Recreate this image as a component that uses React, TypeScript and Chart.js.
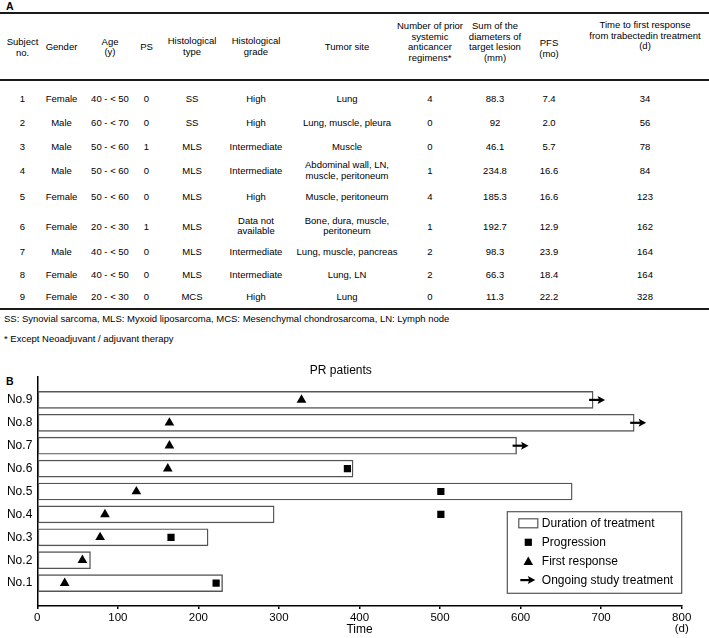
import React, { useEffect, useRef } from 'react';
import { Chart, registerables } from 'chart.js';

Chart.register(...registerables);

// ---------- Panel A : table data ----------
const tableHeaders = [
  'Subject\nno.',
  'Gender',
  'Age\n(y)',
  'PS',
  'Histological\ntype',
  'Histological\ngrade',
  'Tumor site',
  'Number of prior\nsystemic\nanticancer\nregimens*',
  'Sum of the\ndiameters of\ntarget lesion\n(mm)',
  'PFS\n(mo)',
  'Time to first response\nfrom trabectedin treatment\n(d)',
];
const subjectNo = ['1', '2', '3', '4', '5', '6', '7', '8', '9'];
const gender = ['Female', 'Male', 'Male', 'Male', 'Female', 'Female', 'Male', 'Female', 'Female'];
const ageGroup = ['40 - < 50', '60 - < 70', '50 - < 60', '50 - < 60', '50 - < 60', '20 - < 30', '40 - < 50', '40 - < 50', '20 - < 30'];
const perfStatus = ['0', '0', '1', '0', '0', '1', '0', '0', '0'];
const histType = ['SS', 'SS', 'MLS', 'MLS', 'MLS', 'MLS', 'MLS', 'MLS', 'MCS'];
const histGrade = ['High', 'High', 'Intermediate', 'Intermediate', 'High', 'Data not\navailable', 'Intermediate', 'Intermediate', 'High'];
const tumorSite = [
  'Lung',
  'Lung, muscle, pleura',
  'Muscle',
  'Abdominal wall, LN,\nmuscle, peritoneum',
  'Muscle, peritoneum',
  'Bone, dura, muscle,\nperitoneum',
  'Lung, muscle, pancreas',
  'Lung, LN',
  'Lung',
];
const priorRegimens = ['4', '0', '0', '1', '4', '1', '2', '2', '0'];
const sumDiameters = ['88.3', '92', '46.1', '234.8', '185.3', '192.7', '98.3', '66.3', '11.3'];
const pfsMonths = ['7.4', '2.0', '5.7', '16.6', '16.6', '12.9', '23.9', '18.4', '22.2'];
const timeToResponse = [34, 56, 78, 84, 123, 162, 164, 164, 328];
const footnotes = [
  'SS: Synovial sarcoma, MLS: Myxoid liposarcoma, MCS: Mesenchymal chondrosarcoma, LN: Lymph node',
  '* Except Neoadjuvant / adjuvant therapy',
];

// ---------- Panel B : swimmer plot data ----------
const chartTitle = 'PR patients';
const patientLabels = ['No.1', 'No.2', 'No.3', 'No.4', 'No.5', 'No.6', 'No.7', 'No.8', 'No.9'];
const treatmentDuration = [230, 66, 212, 294, 664, 392, 595, 741, 690];
const progressionDay: (number | null)[] = [222, null, 166, 501, 501, 385, null, null, null];
const firstResponseDay = timeToResponse;
const ongoingTreatment = [false, false, false, false, false, false, true, true, true];
const xAxisTitle = 'Time';
const xAxisUnit = '(d)';
const xMin = 0;
const xMax = 800;
const xStep = 100;
const legendLabels = ['Duration of treatment', 'Progression', 'First response', 'Ongoing study treatment'];

const FONT = '"Liberation Sans", Arial, Helvetica, sans-serif';

function drawArrow(ctx: CanvasRenderingContext2D, x0: number, tip: number, y: number) {
  ctx.save();
  ctx.strokeStyle = '#000';
  ctx.fillStyle = '#000';
  ctx.lineWidth = 2.2;
  ctx.beginPath();
  ctx.moveTo(x0, y);
  ctx.lineTo(tip - 5, y);
  ctx.stroke();
  ctx.beginPath();
  ctx.moveTo(tip, y);
  ctx.lineTo(tip - 7.5, y - 4);
  ctx.lineTo(tip - 6, y);
  ctx.lineTo(tip - 7.5, y + 4);
  ctx.closePath();
  ctx.fill();
  ctx.restore();
}

const swimmerExtras = {
  id: 'swimmerExtras',
  afterDatasetsDraw(chart: any) {
    const { ctx, scales, chartArea } = chart;
    const xs = scales.x;
    const ys = scales.y;
    // ongoing arrows
    ongoingTreatment.forEach((on, i) => {
      if (!on) return;
      const px = xs.getPixelForValue(treatmentDuration[i]);
      const py = ys.getPixelForValue(i + 1);
      drawArrow(ctx, px - 4, px + 12, py);
    });
    // legend box
    const bw = 174.4;
    const bh = 81.6;
    const bx = chartArea.right - bw;
    const by = chartArea.bottom - 94.3;
    ctx.save();
    ctx.fillStyle = '#fff';
    ctx.fillRect(bx, by, bw, bh);
    ctx.strokeStyle = '#555';
    ctx.lineWidth = 1.2;
    ctx.strokeRect(bx, by, bw, bh);
    const rows = [11.6, 30.6, 49.8, 68.4];
    const sx = bx + 21;
    const tx = bx + 34.5;
    ctx.font = '12px ' + FONT;
    ctx.textBaseline = 'middle';
    ctx.textAlign = 'left';
    legendLabels.forEach((lab, i) => {
      const ry = by + rows[i];
      if (i === 0) {
        ctx.fillStyle = '#fff';
        ctx.strokeStyle = '#555';
        ctx.lineWidth = 1.2;
        ctx.fillRect(sx - 9.5, ry - 4.5, 19, 9);
        ctx.strokeRect(sx - 9.5, ry - 4.5, 19, 9);
      } else if (i === 1) {
        ctx.fillStyle = '#000';
        ctx.fillRect(sx - 3.6, ry - 3.6, 7.2, 7.2);
      } else if (i === 2) {
        ctx.fillStyle = '#000';
        ctx.beginPath();
        ctx.moveTo(sx, ry - 5);
        ctx.lineTo(sx + 4.8, ry + 3.5);
        ctx.lineTo(sx - 4.8, ry + 3.5);
        ctx.closePath();
        ctx.fill();
      } else {
        drawArrow(ctx, sx - 8, sx + 7, ry);
      }
      ctx.fillStyle = '#000';
      ctx.fillText(lab, tx, ry + 0.5);
    });
    ctx.restore();
  },
};

function SwimmerChart() {
  const ref = useRef<HTMLCanvasElement>(null);
  useEffect(() => {
    if (!ref.current) return;
    Chart.defaults.font.family = FONT;
    Chart.defaults.color = '#000';
    const chart = new Chart(ref.current, {
      type: 'bar',
      data: {
        datasets: [
          {
            type: 'scatter',
            label: legendLabels[2],
            data: firstResponseDay.map((d, i) => ({ x: d, y: i + 1 })),
            pointStyle: 'triangle',
            pointRadius: 5.6,
            pointBackgroundColor: '#000',
            pointBorderWidth: 0,
            showLine: false,
            order: 1,
          } as any,
          {
            type: 'scatter',
            label: legendLabels[1],
            data: progressionDay
              .map((d, i) => (d === null ? null : { x: d, y: i + 1 }))
              .filter((p) => p !== null),
            pointStyle: 'rect',
            pointRadius: 5.1,
            pointBackgroundColor: '#000',
            pointBorderWidth: 0,
            showLine: false,
            order: 1,
          } as any,
          {
            type: 'bar',
            label: legendLabels[0],
            data: treatmentDuration.map((d, i) => ({ x: [0, d], y: i + 1 })),
            backgroundColor: '#fff',
            borderColor: '#555',
            borderWidth: 1.4,
            borderSkipped: false,
            barThickness: 17,
            order: 3,
          } as any,
        ],
      },
      options: {
        indexAxis: 'y',
        responsive: false,
        animation: false,
        devicePixelRatio: 1,
        layout: { padding: { top: 0, left: 0, right: 27.3, bottom: 0 } },
        plugins: {
          legend: { display: false },
          tooltip: { enabled: false },
          title: {
            display: true,
            text: chartTitle,
            color: '#000',
            font: { size: 12, weight: 'normal', lineHeight: 1 },
            padding: { top: 15, bottom: 0 },
          },
        },
        scales: {
          x: {
            type: 'linear',
            min: xMin,
            max: xMax,
            offset: false,
            ticks: {
              stepSize: xStep,
              color: '#000',
              font: { size: 11.5, lineHeight: 0.95 },
              padding: 3,
              maxRotation: 0,
              callback: (v: any) => (v === xMax ? [String(v), xAxisUnit] : String(v)),
            },
            grid: {
              drawOnChartArea: false,
              drawTicks: true,
              tickLength: 3,
              color: '#000',
              lineWidth: 1.5,
            },
            border: { display: true, color: '#000', width: 1.5 },
            title: {
              display: true,
              text: xAxisTitle,
              color: '#000',
              font: { size: 12 },
              padding: { top: 0, bottom: 1 },
            },
            afterFit: (s: any) => {
              s.height = 32;
            },
          },
          y: {
            type: 'linear',
            min: 0,
            max: patientLabels.length + 1,
            offset: false,
            ticks: {
              stepSize: 1,
              color: '#000',
              font: { size: 12 },
              padding: 5,
              callback: (v: any) => (v >= 1 && v <= patientLabels.length ? patientLabels[v - 1] : ''),
            },
            grid: { display: false, drawTicks: false, offset: false },
            border: { display: true, color: '#000', width: 1.5 },
            afterFit: (s: any) => {
              s.width = 37.3;
            },
          },
        },
      } as any,
      plugins: [swimmerExtras],
    });
    return () => chart.destroy();
  }, []);
  return (
    <canvas
      ref={ref}
      width={709}
      height={288}
      style={{ position: 'absolute', left: 0, top: 350, width: 709, height: 288 }}
    />
  );
}

const colX = [22.5, 61.5, 110, 146.5, 192, 256, 347, 430, 495, 549, 645];
const headerY = [48, 47, 47.5, 47, 47, 47, 47, 42, 42, 49, 36];
const rowY = [98.7, 123.3, 146.7, 171, 196.7, 226.5, 251.7, 274.5, 297.3];

function Cell({ x, y, text }: { x: number; y: number; text: string }) {
  return (
    <div
      style={{
        position: 'absolute',
        left: x,
        top: y,
        transform: 'translate(-50%, -50%)',
        whiteSpace: 'pre',
        textAlign: 'center',
        lineHeight: '10.6px',
      }}
    >
      {text}
    </div>
  );
}

export default function App() {
  const columns = [
    subjectNo,
    gender,
    ageGroup,
    perfStatus,
    histType,
    histGrade,
    tumorSite,
    priorRegimens,
    sumDiameters,
    pfsMonths,
    timeToResponse.map(String),
  ];
  const line = (top: number) => (
    <div style={{ position: 'absolute', left: 0, top, width: 709, height: 2, background: '#1a1a1a' }} />
  );
  return (
    <div
      style={{
        position: 'absolute',
        left: 0,
        top: 0,
        width: 709,
        height: 638,
        background: '#fff',
        fontFamily: FONT,
        fontSize: '9.5px',
        color: '#000',
        overflow: 'hidden',
      }}
    >
      <div style={{ position: 'absolute', left: 6, top: 0, fontWeight: 'bold', fontSize: '10.5px', lineHeight: '13px' }}>A</div>
      {line(12.3)}
      {line(79)}
      {line(308)}
      {tableHeaders.map((h, i) => (
        <Cell key={'h' + i} x={colX[i]} y={headerY[i]} text={h} />
      ))}
      {columns.map((col, ci) =>
        col.map((v, ri) => <Cell key={ci + '-' + ri} x={colX[ci]} y={rowY[ri]} text={v} />)
      )}
      <div style={{ position: 'absolute', left: 4, top: 313, whiteSpace: 'pre', lineHeight: '11px' }}>{footnotes[0]}</div>
      <div style={{ position: 'absolute', left: 4, top: 332.5, whiteSpace: 'pre', lineHeight: '11px' }}>{footnotes[1]}</div>
      <div style={{ position: 'absolute', left: 6, top: 375, fontWeight: 'bold', fontSize: '10.5px', lineHeight: '13px' }}>B</div>
      <SwimmerChart />
    </div>
  );
}
